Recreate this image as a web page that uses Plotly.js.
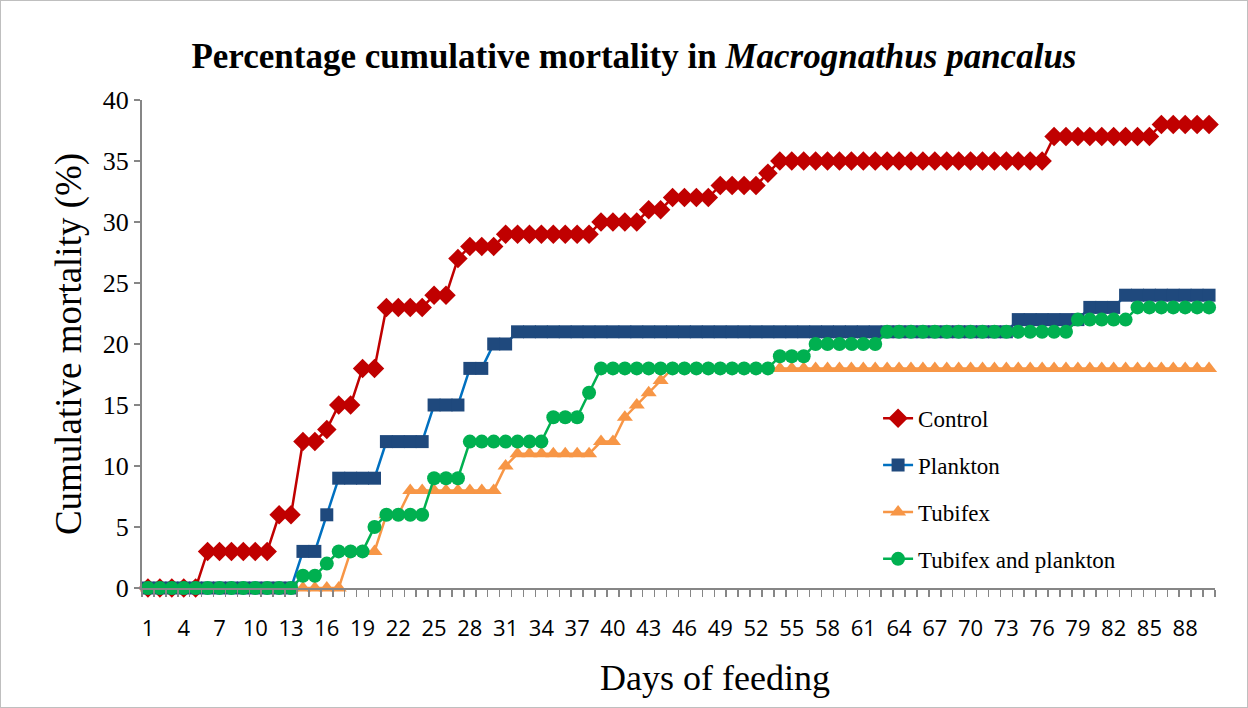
<!DOCTYPE html>
<html>
<head>
<meta charset="utf-8">
<script src="https://cdn.plot.ly/plotly-3.0.1.min.js"></script>
<style>
html,body{margin:0;padding:0;background:#fff;}
#chart{width:1246px;height:706px;border:1px solid #bfbfbf;}
</style>
</head>
<body>
<div id="chart"></div>
<script>
const days = [1,2,3,4,5,6,7,8,9,10,11,12,13,14,15,16,17,18,19,20,21,22,23,24,25,26,27,28,29,30,
  31,32,33,34,35,36,37,38,39,40,41,42,43,44,45,46,47,48,49,50,51,52,53,54,55,56,57,58,59,60,
  61,62,63,64,65,66,67,68,69,70,71,72,73,74,75,76,77,78,79,80,81,82,83,84,85,86,87,88,89,90];

const control = [0,0,0,0,0,3,3,3,3,3, 3,6,6,12,12,13,15,15,18,18, 23,23,23,23,24,24,27,28,28,28,
  29,29,29,29,29,29,29,29,30,30, 30,30,31,31,32,32,32,32,33,33, 33,33,34,35,35,35,35,35,35,35,
  35,35,35,35,35,35,35,35,35,35, 35,35,35,35,35,35,37,37,37,37, 37,37,37,37,37,38,38,38,38,38];

const plankton = [0,0,0,0,0,0,0,0,0,0, 0,0,0,3,3,6,9,9,9,9, 12,12,12,12,15,15,15,18,18,20,
  20,21,21,21,21,21,21,21,21,21, 21,21,21,21,21,21,21,21,21,21, 21,21,21,21,21,21,21,21,21,21,
  21,21,21,21,21,21,21,21,21,21, 21,21,21,22,22,22,22,22,22,23, 23,23,24,24,24,24,24,24,24,24];

const tubifex = [0,0,0,0,0,0,0,0,0,0, 0,0,0,0,0,0,0,3,3,3, 6,6,8,8,8,8,8,8,8,8,
  10,11,11,11,11,11,11,11,12,12, 14,15,16,17,18,18,18,18,18,18, 18,18,18,18,18,18,18,18,18,18,
  18,18,18,18,18,18,18,18,18,18, 18,18,18,18,18,18,18,18,18,18, 18,18,18,18,18,18,18,18,18,18];

const tubifexPlankton = [0,0,0,0,0,0,0,0,0,0, 0,0,0,1,1,2,3,3,3,5, 6,6,6,6,9,9,9,12,12,12,
  12,12,12,12,14,14,14,16,18,18, 18,18,18,18,18,18,18,18,18,18, 18,18,18,19,19,19,20,20,20,20,
  20,20,21,21,21,21,21,21,21,21, 21,21,21,21,21,21,21,21,22,22, 22,22,22,23,23,23,23,23,23,23];

const xTickVals = [1,4,7,10,13,16,19,22,25,28,31,34,37,40,43,46,49,52,55,58,61,64,67,70,73,76,79,82,85,88];
const yTickVals = [0,5,10,15,20,25,30,35,40];

const serif = '"Liberation Serif", "Times New Roman", serif';

const traces = [
  {name:'Control', y:control, line:{color:'#C00000', width:2.5},
   marker:{symbol:'diamond', size:15, color:'#C00000'}},
  {name:'Plankton', y:plankton, line:{color:'#0070C0', width:2.5},
   marker:{symbol:'square', size:13, color:'#1F497D'}},
  {name:'Tubifex', y:tubifex, line:{color:'#F79646', width:2.5},
   marker:{symbol:'triangle-up', size:14, color:'#F79646'}},
  {name:'Tubifex and plankton', y:tubifexPlankton, line:{color:'#00B050', width:2.5},
   marker:{symbol:'circle', size:14, color:'#00B050'}}
].map((t, i) => Object.assign({x: days, type:'scatter', mode:'lines+markers', cliponaxis:false,
  legendgroup:'g'+i}, t));

const layout = {
  width:1246, height:706,
  margin:{l:141, r:32, t:99, b:119},
  paper_bgcolor:'#fff', plot_bgcolor:'#fff',
  showlegend:true,
  title:{text:'<b>Percentage cumulative mortality in <i>Macrognathus pancalus</i></b>',
    font:{family:serif, size:35, color:'#000'}, x:0.508, xanchor:'center', y:0.922, yanchor:'middle'},
  xaxis:{
    range:[0.5, 90.5], tickmode:'array', tickvals:xTickVals, ticktext:xTickVals.map(String),
    ticks:'', showgrid:false, zeroline:false, showline:true, linecolor:'#868686', linewidth:2,
    tickfont:{family:'"Open Sans", "Noto Sans", sans-serif', size:22, color:'#000'},
    ticklabelstandoff:20,
    minor:{tickmode:'linear', tick0:0.5, dtick:1, ticks:'outside', ticklen:7, tickwidth:1.5, tickcolor:'#868686', showgrid:false}
  },
  yaxis:{
    range:[0, 40], tickmode:'array', tickvals:yTickVals, ticks:'outside', ticklen:6, tickwidth:2,
    tickcolor:'#868686', showgrid:false, zeroline:false, showline:true, linecolor:'#868686', linewidth:2,
    tickfont:{family:serif, size:26, color:'#000'},
    title:{text:'Cumulative mortality (%)', font:{family:serif, size:37, color:'#000'}, standoff:10}
  },
  annotations:[
    {text:'Days of feeding', xref:'paper', yref:'paper', x:0.534, y:-0.184, xanchor:'center', yanchor:'middle',
     showarrow:false, font:{family:serif, size:36, color:'#000'}}
  ],
  legend:{x:0.686, xanchor:'left', y:0.392, yanchor:'top', bgcolor:'rgba(0,0,0,0)',
    font:{family:serif, size:23, color:'#000'}, tracegroupgap:14, itemwidth:30}
};

Plotly.newPlot('chart', traces, layout, {displayModeBar:false, staticPlot:true});
</script>
</body>
</html>
